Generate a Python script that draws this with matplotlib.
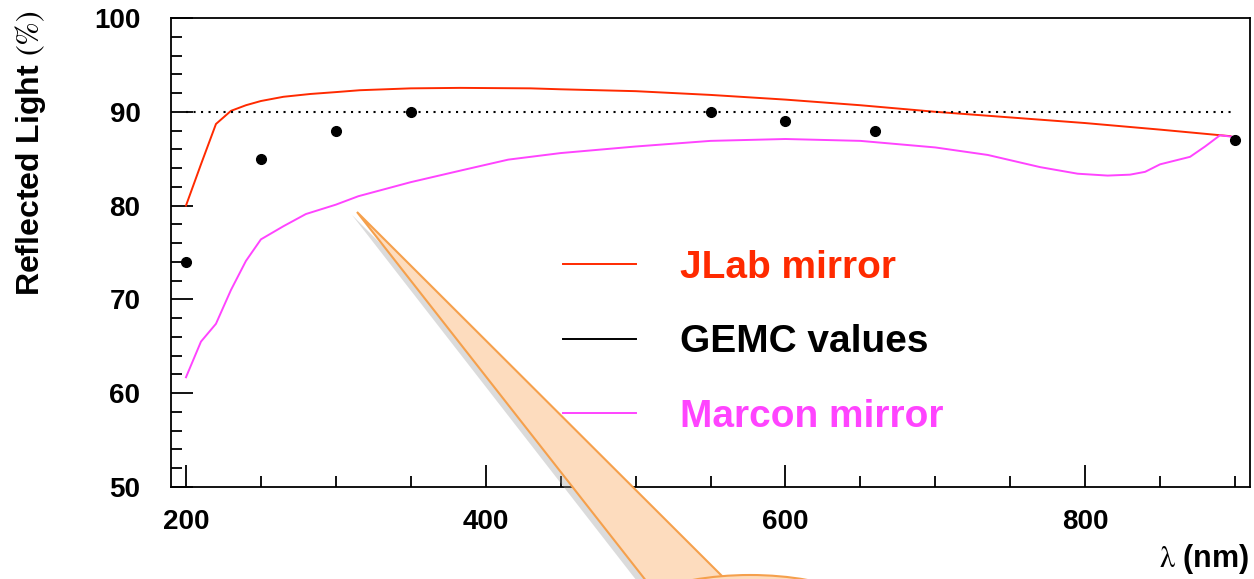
import numpy as np
import matplotlib
matplotlib.use("Agg")
import matplotlib.pyplot as plt
from matplotlib.lines import Line2D
from matplotlib.patches import Polygon, Ellipse
from matplotlib.ticker import MultipleLocator

plt.rcParams['font.family'] = ['Liberation Sans', 'DejaVu Sans']
plt.rcParams['mathtext.fontset'] = 'stix'

# JLab mirror reflectivity (red curve)
jlab_wl = [200, 210, 220, 230, 240, 250, 265, 283, 300, 316, 350, 383, 430, 450,
           500, 550, 600, 650, 700, 750, 800, 850, 897]
jlab_r = [80.0, 84.4, 88.7, 90.1, 90.7, 91.15, 91.6, 91.9, 92.1, 92.3, 92.5, 92.55, 92.5, 92.4,
          92.2, 91.8, 91.3, 90.7, 90.0, 89.4, 88.8, 88.1, 87.4]

# Marcon mirror reflectivity (magenta curve)
marcon_wl = [200, 210, 220, 230, 240, 250, 265, 280, 300, 315, 350, 385, 415, 450,
             500, 550, 600, 650, 700, 735, 770, 795, 815, 830, 840, 850, 870, 880, 890, 900]
marcon_r = [61.7, 65.5, 67.4, 71.0, 74.1, 76.4, 77.8, 79.1, 80.1, 81.0, 82.5, 83.8, 84.9, 85.6,
            86.3, 86.9, 87.1, 86.9, 86.2, 85.4, 84.1, 83.4, 83.2, 83.3, 83.6, 84.4, 85.2, 86.3, 87.5, 87.3]

# GEMC values (black dots)
gemc_wl = [200, 250, 300, 350, 550, 600, 660, 900]
gemc_r = [74, 85, 88, 90, 90, 89, 88, 87]

red = '#ff2a00'
magenta = '#ff44ff'

W, H = 1254, 579
fig = plt.figure(figsize=(W / 100, H / 100), dpi=100)
ax = fig.add_axes([171 / W, 1 - 487 / H, (1250 - 171) / W, (487 - 18) / H])

ax.plot(jlab_wl, jlab_r, color=red, lw=1.4)
ax.plot(marcon_wl, marcon_r, color=magenta, lw=1.4)
ax.hlines(90, 200, 900, color='black', lw=1.5, linestyles=(0, (1, 2.6)))
ax.plot(gemc_wl, gemc_r, 'o', color='black', ms=7, clip_on=False, zorder=5)

ax.set_xlim(190, 910)
ax.set_ylim(50, 100)
ax.xaxis.set_major_locator(MultipleLocator(200))
ax.xaxis.set_minor_locator(MultipleLocator(50))
ax.yaxis.set_major_locator(MultipleLocator(10))
ax.yaxis.set_minor_locator(MultipleLocator(2))
ax.tick_params(which='both', direction='in', top=False, right=False, width=1.3)
ax.tick_params(which='major', length=16)
ax.tick_params(which='minor', length=8)
ax.tick_params(axis='x', which='major', pad=16, labelsize=20)
ax.tick_params(axis='y', which='major', pad=22, labelsize=20)
for lab in ax.get_xticklabels() + ax.get_yticklabels():
    lab.set_fontweight('bold')
for sp in ax.spines.values():
    sp.set_linewidth(1.3)

handles = [Line2D([], [], color=red, lw=1.4),
           Line2D([], [], color='black', lw=1.4),
           Line2D([], [], color=magenta, lw=1.4)]
leg = ax.legend(handles, ['JLab mirror', 'GEMC values', 'Marcon mirror'],
                loc='upper left', bbox_to_anchor=((563 - 171) / (1250 - 171), 1 - (250 - 18) / (487 - 18)),
                frameon=False, prop={'weight': 'bold', 'size': 28},
                handlelength=1.88, handletextpad=1.13, labelspacing=0.99,
                borderpad=0, borderaxespad=0,
                labelcolor=[red, 'black', magenta])

# axis titles
fig.text(31 / W, 1 - 10 / H, r'Reflected Light $(\%)$', rotation=90, ha='center', va='top',
         fontsize=23, fontweight='bold')
fig.text(1249 / W, 1 - 567 / H, r'$\mathrm{\lambda}$ (nm)', ha='right', va='baseline',
         fontsize=22, fontweight='bold')

# callout pointer overlaid on the slide
def px(x, y):
    return (x / W, 1 - y / H)

shadow = Polygon([px(352, 215), px(640, 585), px(722, 585)], closed=True,
                 transform=fig.transFigure, facecolor='#999999', alpha=0.35,
                 edgecolor='none', zorder=9)
wedge = Polygon([px(357, 212), px(647, 582), px(728, 582)], closed=True,
                transform=fig.transFigure, facecolor='#fddcbe', edgecolor='#f5a04c',
                lw=1.5, zorder=10)
bubble = Ellipse(px(750, 640), 300 / W, 130 / H, transform=fig.transFigure,
                 facecolor='#fddcbe', edgecolor='#f5a04c', lw=1.5, zorder=10)
fig.patches.extend([shadow, wedge, bubble])

fig.savefig('out.png', dpi=100)
